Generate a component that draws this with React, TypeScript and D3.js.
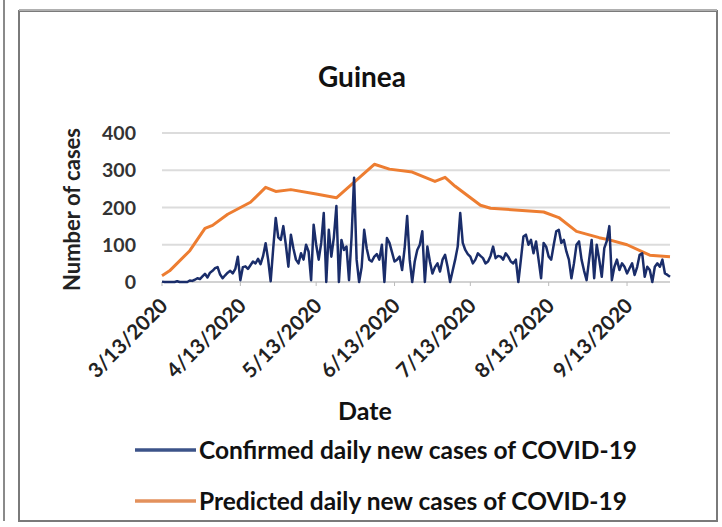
import React from "react";
import * as d3 from "d3";

const WIDTH = 722;
const HEIGHT = 527;
const MARGIN = { top: 133, right: 52, bottom: 245, left: 162 };
const FONT = "Lato, 'Open Sans', sans-serif";

const START_DATE = new Date(2020, 2, 13);
const TICK_LABELS = ["3/13/2020", "4/13/2020", "5/13/2020", "6/13/2020", "7/13/2020", "8/13/2020", "9/13/2020"];
const Y_TICKS = [0, 100, 200, 300, 400];

// confirmed daily new cases, one value per day starting 3/13/2020
const confirmed = [
  1, 0, 0, 0, 0, 0, 2, 0, 0, 0, 0, 4, 3, 6, 10, 8, 15, 22, 12, 25,
  30, 37, 40, 20, 10, 18, 25, 30, 23, 35, 68, 5, 40, 42, 35, 45, 55, 50, 62, 48,
  70, 104, 60, 2, 90, 172, 120, 113, 150, 100, 41, 127, 90, 60, 50, 77, 60, 100, 82, 5,
  154, 100, 60, 105, 185, 0, 140, 68, 120, 204, 0, 113, 86, 95, 5, 120, 280, 60, 0, 40,
  140, 90, 60, 55, 68, 75, 60, 100, 0, 118, 105, 80, 55, 60, 68, 32, 90, 177, 60, 0,
  55, 86, 100, 136, 0, 95, 55, 23, 40, 50, 28, 60, 73, 41, 0, 30, 60, 95, 185, 105,
  86, 75, 68, 50, 60, 77, 70, 64, 50, 55, 70, 95, 64, 70, 68, 60, 77, 68, 55, 50,
  60, 0, 60, 122, 127, 100, 113, 77, 109, 60, 10, 105, 95, 68, 60, 100, 136, 140, 105, 113,
  82, 60, 10, 50, 100, 109, 60, 30, 5, 60, 113, 10, 100, 60, 14, 91, 110, 150, 5, 41,
  60, 32, 50, 41, 23, 37, 50, 19, 40, 73, 77, 14, 41, 32, 0, 41, 50, 41, 60, 23,
  19, 14,
];

// predicted daily new cases (day offset from 3/13/2020, value)
const predictedDays = [0, 3, 11, 17, 20, 26, 35, 41, 45, 51, 61, 69, 84, 90, 99, 108, 112, 116, 126, 130, 151, 157, 164, 173, 177, 184, 193, 201];
const predictedValues = [17, 30, 84, 144, 152, 182, 214, 254, 243, 248, 236, 226, 316, 303, 295, 270, 281, 257, 206, 198, 188, 173, 136, 119, 113, 100, 72, 68];

const SERIES_NAMES = ["Confirmed daily new cases of COVID-19", "Predicted daily new cases of COVID-19"];
const COLORS = ["#1a2d6a", "#ed7d31"];
const LEGEND_COLORS = ["#3c5389", "#e3915c"];

export default function App() {
  const boundsWidth = WIDTH - MARGIN.left - MARGIN.right;
  const boundsHeight = HEIGHT - MARGIN.top - MARGIN.bottom;

  const dayToDate = (d: number) => d3.timeDay.offset(START_DATE, d);
  const confirmedData = confirmed.map((v, i) => ({ date: dayToDate(i), value: v }));
  const predictedData = predictedDays.map((d, i) => ({ date: dayToDate(d), value: predictedValues[i] }));

  const xScale = d3
    .scaleTime()
    .domain([START_DATE, dayToDate(confirmed.length - 1)])
    .range([0, boundsWidth]);
  const yScale = d3.scaleLinear().domain([0, 400]).range([boundsHeight, 0]);

  const line = d3
    .line<{ date: Date; value: number }>()
    .x((d) => xScale(d.date))
    .y((d) => yScale(d.value));

  const tickDates = TICK_LABELS.map((t) => {
    const [m, d, y] = t.split("/").map(Number);
    return new Date(y, m - 1, d);
  });

  return (
    <svg width={WIDTH} height={HEIGHT} style={{ position: "absolute", left: 0, top: 0 }}>
      <rect width={WIDTH} height={HEIGHT} fill="#fff" />
      {/* neighbouring panel edge + chart frame */}
      <line x1={4} x2={4} y1={0} y2={521} stroke="#8a8a8a" strokeWidth={2} />
      <rect x={19} y={11} width={698} height={510} fill="none" stroke="#7a7a7a" strokeWidth={2} />
      <line x1={19} x2={717} y1={10} y2={10} stroke="#b0b0b0" strokeWidth={2} />

      <text x={362} y={87} textAnchor="middle" fontFamily={FONT} fontWeight="bold" fontSize={28} fill="#111">
        Guinea
      </text>

      <g transform={`translate(${MARGIN.left},${MARGIN.top})`}>
        {Y_TICKS.map((t) => (
          <g key={t}>
            <line x1={0} x2={boundsWidth} y1={yScale(t)} y2={yScale(t)} stroke="#dcdcdc" strokeWidth={2} />
            <text x={-26} y={yScale(t)} dy="0.36em" textAnchor="end" fontFamily={FONT} fontWeight="bold" fontSize={19.5} fill="#333">
              {t}
            </text>
          </g>
        ))}
        <line x1={0} x2={boundsWidth} y1={boundsHeight} y2={boundsHeight} stroke="#cfcfcf" strokeWidth={1.5} />
        {tickDates.map((d, i) => (
          <g key={i} transform={`translate(${xScale(d)},${boundsHeight})`}>
            <line y1={0} y2={4} stroke="#bbb" />
            <text
              transform="translate(7,25) rotate(-45)"
              textAnchor="end"
              fontFamily={FONT}
              fontWeight="bold"
              fontSize={20.5}
              fill="#222"
            >
              {TICK_LABELS[i]}
            </text>
          </g>
        ))}
        <path d={line(predictedData) ?? ""} fill="none" stroke={COLORS[1]} strokeWidth={3} strokeLinejoin="round" />
        <path d={line(confirmedData) ?? ""} fill="none" stroke={COLORS[0]} strokeWidth={2.5} strokeLinejoin="round" />
      </g>

      <text
        transform={`translate(80,${MARGIN.top + boundsHeight / 2 + 2}) rotate(-90)`}
        textAnchor="middle"
        fontFamily={FONT}
        fontWeight="bold"
        fontSize={22}
        fill="#222"
      >
        Number of cases
      </text>

      <text x={365} y={420} textAnchor="middle" fontFamily={FONT} fontWeight="bold" fontSize={25} fill="#111">
        Date
      </text>

      {SERIES_NAMES.map((name, i) => (
        <g key={name} transform={`translate(135,${450 + i * 51})`}>
          <line x1={0} x2={61} y1={0} y2={0} stroke={LEGEND_COLORS[i]} strokeWidth={3.5} />
          <text x={64} y={0} dy="0.35em" fontFamily={FONT} fontWeight="bold" fontSize={24.5} fill="#111">
            {name}
          </text>
        </g>
      ))}
    </svg>
  );
}
